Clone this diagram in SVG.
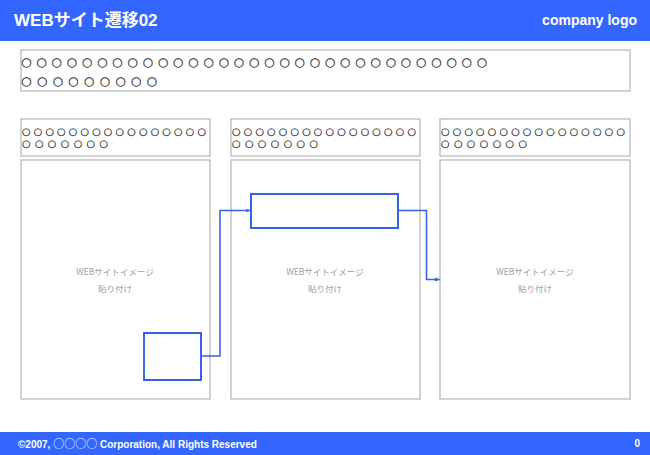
<svg xmlns="http://www.w3.org/2000/svg" width="650" height="455" viewBox="0 0 650 455">
<defs>
<style>
.bar{fill:#3366FF}
.frame{fill:#fff;stroke:#b4b4b4;stroke-width:1.2}
.circ{font-family:"DejaVu Sans","Noto Sans CJK JP",sans-serif;fill:#333;stroke:#333;stroke-width:0.25}
.ph{font-family:"Noto Sans CJK JP","Liberation Sans",sans-serif;font-size:8.5px;fill:#a0a0a0;text-anchor:middle}
.blue{fill:none;stroke:#3A63E8;stroke-width:2}
.conn{fill:none;stroke:#3A63E8;stroke-width:1.6}
.wt{font-family:"Liberation Sans","Noto Sans CJK JP",sans-serif;font-weight:bold;fill:#fff}
.cj{font-family:"Noto Sans CJK JP",sans-serif;font-weight:normal}
</style>
<marker id="arr" viewBox="0 0 10 10" refX="9" refY="5" markerWidth="5" markerHeight="5" orient="auto" markerUnits="userSpaceOnUse">
<path d="M0,1 L10,5 L0,9 z" fill="#3A63E8"/>
</marker>
</defs>
<g id="header">
<rect class="bar" x="0" y="0" width="650" height="41"/>
<text class="wt" x="14" y="26" font-size="17">WEBサイト遷移02</text>
<text class="wt" x="637" y="25" font-size="14" text-anchor="end">company logo</text>
</g>
<g id="title-box">
<rect class="frame" x="21" y="50" width="609" height="41"/>
<text class="circ" x="21" y="65.5" font-size="12" textLength="466" lengthAdjust="spacing">○○○○○○○○○○○○○○○○○○○○○○○○○○○○○○○</text>
<text class="circ" x="21" y="84.5" font-size="12" textLength="136" lengthAdjust="spacing">○○○○○○○○○</text>
</g>
<g id="col1-head">
<rect class="frame" x="21" y="119" width="189" height="37"/>
<text class="circ" x="22" y="134.5" font-size="9.8" textLength="184" lengthAdjust="spacing">○○○○○○○○○○○○○○○○</text>
<text class="circ" x="22" y="146.5" font-size="9.8" textLength="86" lengthAdjust="spacing">○○○○○○○</text>
</g>
<g id="col2-head">
<rect class="frame" x="231" y="119" width="189" height="37"/>
<text class="circ" x="232" y="134.5" font-size="9.8" textLength="184" lengthAdjust="spacing">○○○○○○○○○○○○○○○○</text>
<text class="circ" x="232" y="146.5" font-size="9.8" textLength="86" lengthAdjust="spacing">○○○○○○○</text>
</g>
<g id="col3-head">
<rect class="frame" x="440" y="119" width="190" height="37"/>
<text class="circ" x="441" y="134.5" font-size="9.8" textLength="184" lengthAdjust="spacing">○○○○○○○○○○○○○○○○</text>
<text class="circ" x="441" y="146.5" font-size="9.8" textLength="86" lengthAdjust="spacing">○○○○○○○</text>
</g>
<g id="page1">
<rect class="frame" x="21" y="160" width="189" height="239"/>
<text class="ph" x="115" y="275">WEBサイトイメージ</text>
<text class="ph" x="115" y="292">貼り付け</text>
</g>
<g id="page2">
<rect class="frame" x="231" y="160" width="189" height="239"/>
<text class="ph" x="325" y="275">WEBサイトイメージ</text>
<text class="ph" x="325" y="292">貼り付け</text>
</g>
<g id="page3">
<rect class="frame" x="440" y="160" width="190" height="239"/>
<text class="ph" x="535" y="275">WEBサイトイメージ</text>
<text class="ph" x="535" y="292">貼り付け</text>
</g>
<g id="link-source">
<rect class="blue" x="144" y="333" width="57" height="47"/>
</g>
<g id="link-target">
<rect class="blue" x="251" y="194" width="147" height="34"/>
</g>
<g id="connectors">
<path class="conn" d="M201,356 H220 V210.5 H250" marker-end="url(#arr)"/>
<path class="conn" d="M398,210.5 H426.5 V279.5 H439.5" marker-end="url(#arr)"/>
</g>
<g id="footer">
<rect class="bar" x="0" y="432" width="650" height="23"/>
<text class="wt" x="18" y="447.5" font-size="10">©2007, <tspan class="cj" font-size="11">○○○○</tspan> Corporation, All Rights Reserved</text>
<text class="wt" x="640" y="447" font-size="10" text-anchor="end">0</text>
</g>
</svg>
